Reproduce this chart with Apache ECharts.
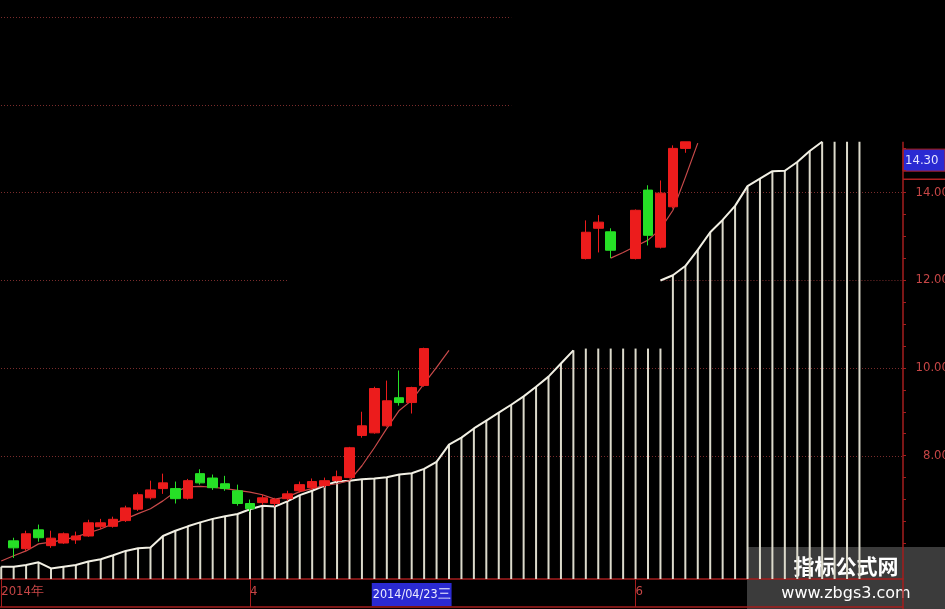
<!DOCTYPE html>
<html>
<head>
<meta charset="utf-8">
<script src="https://cdn.jsdelivr.net/npm/echarts@6/dist/echarts.min.js"></script>
<style>html,body{margin:0;padding:0;background:#000}#c{width:945px;height:609px}</style>
</head>
<body>
<div id="c"></div>
<script>
// ---------- data ----------
const dates = [
  '2014/03/04','2014/03/05','2014/03/06','2014/03/07','2014/03/10','2014/03/11','2014/03/12','2014/03/13','2014/03/14','2014/03/17',
  '2014/03/18','2014/03/19','2014/03/20','2014/03/21','2014/03/24','2014/03/25','2014/03/26','2014/03/27','2014/03/28','2014/03/31',
  '2014/04/01','2014/04/02','2014/04/03','2014/04/04','2014/04/08','2014/04/09','2014/04/10','2014/04/11','2014/04/16','2014/04/17',
  '2014/04/18','2014/04/21','2014/04/22','2014/04/23','2014/04/24','2014/04/25','2014/04/28','2014/04/29','2014/04/30','2014/05/05',
  '2014/05/06','2014/05/07','2014/05/08','2014/05/09','2014/05/12','2014/05/13','2014/05/14','2014/05/15','2014/05/16','2014/05/19',
  '2014/05/20','2014/06/03','2014/06/04','2014/06/05','2014/06/06','2014/06/09','2014/06/10','2014/06/11','2014/06/12','2014/06/13',
  '2014/06/16','2014/06/17','2014/06/18','2014/06/19','2014/06/20','2014/06/23','2014/06/24','2014/06/25','2014/06/26','2014/06/27',
  '2014/06/30','2014/07/01','2014/07/02'
];

// [open, close, low, high]
const candles = [
  '-',
  [6.06, 5.90, 5.67, 6.13], [5.88, 6.22, 5.83, 6.29], [6.31, 6.13, 6.04, 6.43], [5.95, 6.12, 5.90, 6.29],
  [6.01, 6.22, 5.99, 6.25], [6.08, 6.17, 5.99, 6.27], [6.17, 6.47, 6.15, 6.54], [6.38, 6.47, 6.33, 6.56],
  [6.39, 6.55, 6.36, 6.61], [6.52, 6.81, 6.49, 6.86], [6.78, 7.11, 6.74, 7.16], [7.04, 7.22, 7.00, 7.43],
  [7.25, 7.38, 7.13, 7.59], [7.25, 7.02, 6.91, 7.41], [7.03, 7.43, 7.00, 7.47], [7.59, 7.38, 7.34, 7.69],
  [7.49, 7.27, 7.22, 7.57], [7.36, 7.25, 7.20, 7.54], [7.20, 6.91, 6.86, 7.34], [6.91, 6.79, 6.72, 7.00],
  [6.93, 7.04, 6.88, 7.11], [6.91, 7.00, 6.84, 7.04], [7.02, 7.13, 6.97, 7.20], [7.20, 7.34, 7.16, 7.41],
  [7.27, 7.41, 7.22, 7.48], [7.32, 7.43, 7.27, 7.50], [7.43, 7.52, 7.41, 7.66], [7.50, 8.18, 7.48, 8.20],
  [8.46, 8.68, 8.41, 9.00], [8.52, 9.53, 8.50, 9.57], [8.68, 9.25, 8.66, 9.71], [9.32, 9.21, 9.14, 9.94],
  [9.21, 9.55, 8.96, 9.57], [9.60, 10.44, 9.57, 10.46],
  '-','-','-','-','-','-','-','-','-','-','-','-',
  [12.49, 13.09, 12.47, 13.36], [13.18, 13.32, 12.63, 13.48], [13.10, 12.68, 12.50, 13.18],
  '-',
  [12.49, 13.59, 12.47, 13.61], [14.05, 13.02, 12.79, 14.16], [12.75, 13.98, 12.72, 14.27],
  [13.67, 15.00, 13.63, 15.07], [15.00, 15.15, 14.90, 15.15],
  '-','-','-','-','-','-','-','-','-','-','-','-','-','-','-','-','-'
];

const maValues = [
  5.60, 5.72, 5.83, 5.99, 6.03, 6.08, 6.15, 6.24, 6.33, 6.45,
  6.56, 6.68, 6.79, 6.97, 7.18, 7.29, 7.30, 7.28, 7.25, 7.21,
  7.17, 7.11, 7.01, 7.06, 7.18, 7.25, 7.32, 7.36, 7.43, 7.77,
  8.18, 8.62, 9.03, 9.26, 9.64, 10.01, 10.40,
  '-','-','-','-','-','-','-','-','-','-','-','-',
  12.50, 12.63, 12.77, 12.91, 13.16, 13.59, 14.34, 15.12,
  '-','-','-','-','-','-','-','-','-','-','-','-','-','-','-','-'
];

const trendValues = [
  5.47, 5.47, 5.51, 5.57, 5.43, 5.47, 5.51, 5.59, 5.64, 5.73,
  5.83, 5.89, 5.91, 6.17, 6.29, 6.39, 6.48, 6.56, 6.62, 6.67,
  6.78, 6.86, 6.84, 6.96, 7.10, 7.20, 7.32, 7.41, 7.43, 7.46,
  7.48, 7.51, 7.57, 7.60, 7.70, 7.86, 8.25, 8.41, 8.62, 8.80,
  8.98, 9.16, 9.35, 9.57, 9.80, 10.10, 10.40,
  '-','-','-','-','-','-',
  11.99, 12.11, 12.32, 12.69, 13.09, 13.37, 13.69, 14.14, 14.31, 14.48,
  14.49, 14.69, 14.94, 15.15,
  '-','-','-','-','-','-'
];

const stripValues = [
  5.47, 5.47, 5.51, 5.57, 5.43, 5.47, 5.51, 5.59, 5.64, 5.73,
  5.83, 5.89, 5.91, 6.17, 6.29, 6.39, 6.48, 6.56, 6.62, 6.67,
  6.78, 6.86, 6.84, 6.96, 7.10, 7.20, 7.32, 7.41, 7.43, 7.46,
  7.48, 7.51, 7.57, 7.60, 7.70, 7.86, 8.25, 8.41, 8.62, 8.80,
  8.98, 9.16, 9.35, 9.57, 9.80, 10.10, 10.40,
  10.44, 10.44, 10.44, 10.44, 10.44, 10.44, 10.44,
  12.11, 12.32, 12.69, 13.09, 13.37, 13.69, 14.14, 14.31, 14.48,
  14.49, 14.69, 14.94, 15.15,
  15.15, 15.15, 15.15,
  '-','-','-'
];

const yLabelValues = [8, 10, 12, 14];
const yTickValues = [6, 6.5, 7, 7.5, 8, 8.5, 9, 9.5, 10, 10.5, 11, 11.5, 12, 12.5, 13, 13.5, 14, 14.5, 15];
const xLabelIndex = [0, 20, 51];
const xLabelText = ['2014年', '4', '6'];
const crossIndex = 33;
const crossWeekday = '三';
const lastPrice = 14.30;
const axisTopValue = 15.15;   // the price axis line is only visible below this level
const yMin = 5.19, yMax = 18.381;

// grid lines: level, from index (null = plot edge), to index (null = plot edge)
const gridLevels = [18, 16, 14, 12, 12, 10, 8];
const gridFrom   = [null, null, null, null, 53, null, null];
const gridTo     = [41, 41, null, 23, null, null, null];

// ---------- chart ----------
const FONT = "'Liberation Sans Narrow','DejaVu Sans Condensed','Arial Narrow',sans-serif";
const RED_AXIS = '#a51e1e';
const LABEL_RED = '#c64646';

const chart = echarts.init(document.getElementById('c'), null, { renderer: 'canvas' });

const stripData = [];
stripValues.forEach((v, i) => { if (v !== '-') stripData.push([i, v]); });

const option = {
  backgroundColor: '#000',
  animation: false,
  grid: { left: -5, right: 42, top: 0, bottom: 30, containLabel: false, outerBoundsMode: 'none' },
  xAxis: [
    {
      type: 'category',
      data: dates,
      boundaryGap: true,
      axisLine: { show: true, lineStyle: { color: RED_AXIS, width: 1.5 } },
      axisTick: {
        show: true, alignWithLabel: true, length: 28,
        interval: (i) => xLabelIndex.indexOf(i) >= 0,
        lineStyle: { color: RED_AXIS, width: 1 }
      },
      axisLabel: {
        show: true,
        interval: (i) => xLabelIndex.indexOf(i) >= 0,
        formatter: (v, i) => { const k = xLabelIndex.indexOf(i); return k >= 0 ? xLabelText[k] : ''; },
        align: 'left', color: LABEL_RED, fontSize: 13, fontFamily: FONT, margin: 6
      },
      splitLine: { show: false },
      axisPointer: {
        show: true, type: 'line', value: crossIndex, status: 'show', snap: true,
        triggerTooltip: false,
        lineStyle: { opacity: 0, width: 0 },
        label: {
          show: true,
          formatter: () => dates[crossIndex] + crossWeekday,
          backgroundColor: '#2a2ad2', color: '#ececff',
          fontSize: 12.5, fontFamily: FONT,
          padding: [5, 1, 5, 1], margin: 4, borderRadius: 0
        }
      }
    },
    {
      type: 'category',
      data: dates,
      position: 'bottom',
      offset: 28,
      axisLine: { show: true, lineStyle: { color: RED_AXIS, width: 1.5 } },
      axisTick: { show: false },
      axisLabel: { show: false },
      splitLine: { show: false }
    }
  ],
  yAxis: {
    type: 'value',
    position: 'right',
    min: yMin,
    max: yMax,
    splitLine: { show: false },
    axisLine: { show: false },
    axisTick: { show: true, length: 3, customValues: yTickValues, lineStyle: { color: RED_AXIS } },
    axisLabel: {
      show: true,
      customValues: yLabelValues,
      formatter: (v) => yLabelValues.indexOf(v) >= 0 ? v.toFixed(2) : '',
      align: 'right', margin: 46,
      color: LABEL_RED, fontSize: 13, fontFamily: FONT
    }
  },
  series: [
    {
      name: 'grid',
      type: 'custom',
      z: 1,
      silent: true,
      clip: false,
      data: [[0, 8]],
      encode: { x: 0, y: 1 },
      renderItem: (params, api) => {
        const cs = params.coordSys;
        const children = gridLevels.map((lv, j) => {
          const y = api.coord([0, lv])[1];
          const x1 = gridFrom[j] === null ? cs.x : api.coord([gridFrom[j], lv])[0];
          const x2 = gridTo[j] === null ? cs.x + cs.width : api.coord([gridTo[j], lv])[0];
          return {
            type: 'line',
            shape: { x1: x1, y1: Math.round(y) + 0.5, x2: x2, y2: Math.round(y) + 0.5 },
            style: { stroke: '#7a2c2c', lineWidth: 1, lineDash: [1, 2] }
          };
        });
        // price axis line (visible part only)
        const ax = cs.x + cs.width;
        const yTop = api.coord([0, axisTopValue])[1];
        children.push({
          type: 'line',
          shape: { x1: ax, y1: yTop, x2: ax, y2: cs.y + cs.height + 30 },
          style: { stroke: RED_AXIS, lineWidth: 1.5 }
        });
        return { type: 'group', children: children };
      }
    },
    {
      name: 'strips',
      type: 'custom',
      z: 2,
      silent: true,
      clip: true,
      data: stripData,
      encode: { x: 0, y: 1 },
      renderItem: (params, api) => {
        const top = api.coord([api.value(0), api.value(1)]);
        const cs = params.coordSys;
        return {
          type: 'line',
          shape: { x1: top[0], y1: top[1], x2: top[0], y2: cs.y + cs.height },
          style: { stroke: '#dcdacb', lineWidth: 2 }
        };
      }
    },
    {
      name: 'trend',
      type: 'line',
      z: 3,
      data: trendValues,
      symbol: 'none',
      connectNulls: false,
      lineStyle: { color: '#f2f0e4', width: 2 }
    },
    {
      name: 'MA',
      type: 'line',
      z: 4,
      data: maValues,
      symbol: 'none',
      connectNulls: false,
      lineStyle: { color: '#c84a4a', width: 1.2 }
    },
    {
      name: 'K',
      type: 'candlestick',
      z: 5,
      data: candles,
      barWidth: 10,
      itemStyle: {
        color: '#ec1c1c', color0: '#26e026',
        borderColor: '#ec1c1c', borderColor0: '#26e026', borderWidth: 1
      }
    }
  ]
};

chart.setOption(option);

// price box on the right axis and watermark
const py = chart.convertToPixel({ yAxisIndex: 0 }, lastPrice);
chart.setOption({
  graphic: [
    {
      type: 'group', z: 100,
      children: [
        { type: 'line', shape: { x1: 903, y1: py, x2: 945, y2: py }, style: { stroke: '#b02020', lineWidth: 1.5 } },
        { type: 'rect', shape: { x: 903, y: py - 30, width: 42, height: 22 }, style: { fill: '#2a2ad2', stroke: '#b02020', lineWidth: 1 } },
        { type: 'text', x: 905, y: py - 19, style: { text: lastPrice.toFixed(2), fill: '#e6e6ff', font: '13px ' + FONT, verticalAlign: 'middle', align: 'left' } }
      ]
    },
    {
      type: 'group', z: 200,
      children: [
        { type: 'rect', shape: { x: 747, y: 547, width: 198, height: 62 }, style: { fill: '#3b3b3b' } },
        { type: 'text', x: 846, y: 566, style: { text: '指标公式网', fill: '#ffffff', font: 'bold 21px "Noto Sans CJK SC", sans-serif', align: 'center', verticalAlign: 'middle' } },
        { type: 'text', x: 846, y: 594, style: { text: 'www.zbgs3.com', fill: '#ffffff', font: '16px "DejaVu Sans", sans-serif', align: 'center', verticalAlign: 'middle' } }
      ]
    }
  ]
});
</script>
</body>
</html>
